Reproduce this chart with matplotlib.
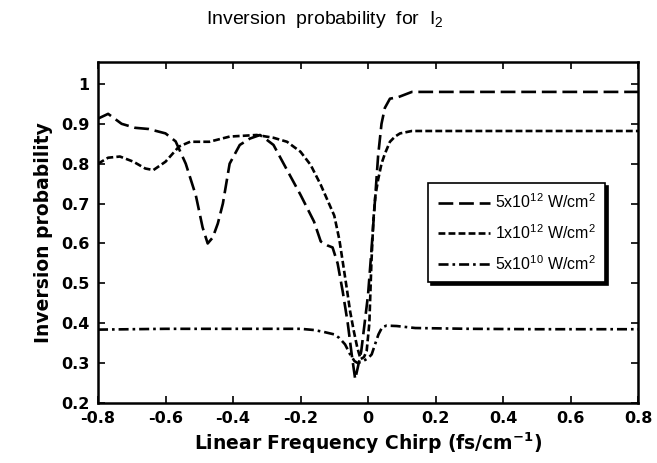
import numpy as np
import matplotlib
matplotlib.use('Agg')
import matplotlib.pyplot as plt

# chirp values (fs/cm^-1) and inversion probability
x_5e12 = [-0.8, -0.77, -0.73, -0.69, -0.65, -0.6, -0.57, -0.54, -0.51, -0.49, -0.475,
          -0.46, -0.445, -0.43, -0.41, -0.38, -0.35, -0.32, -0.3, -0.28, -0.25, -0.2,
          -0.16, -0.14, -0.12, -0.105, -0.09, -0.075, -0.06, -0.048, -0.038, -0.03,
          -0.02, -0.01, 0.0, 0.01, 0.02, 0.03, 0.04, 0.05, 0.065, 0.09, 0.13, 0.2,
          0.4, 0.6, 0.8]
y_5e12 = [0.913, 0.925, 0.90, 0.89, 0.887, 0.876, 0.856, 0.80, 0.72, 0.64, 0.60,
          0.615, 0.65, 0.70, 0.80, 0.847, 0.863, 0.872, 0.86, 0.847, 0.80, 0.722,
          0.655, 0.605, 0.595, 0.59, 0.55, 0.48, 0.40, 0.32, 0.26, 0.29,
          0.33, 0.40, 0.47, 0.58, 0.70, 0.82, 0.90, 0.94, 0.963, 0.967, 0.98, 0.98,
          0.98, 0.98, 0.98]

x_1e12 = [-0.8, -0.77, -0.735, -0.695, -0.66, -0.636, -0.6, -0.56, -0.527, -0.47,
          -0.41, -0.33, -0.28, -0.24, -0.2, -0.17, -0.14, -0.1, -0.085, -0.075,
          -0.063, -0.053, -0.042, -0.032, -0.022, -0.012, -0.004, 0.004, 0.01,
          0.016, 0.022, 0.03, 0.04, 0.05, 0.065, 0.08, 0.095, 0.13, 0.2, 0.4,
          0.6, 0.8]
y_1e12 = [0.80, 0.815, 0.818, 0.805, 0.788, 0.784, 0.805, 0.843, 0.855, 0.855,
          0.868, 0.872, 0.865, 0.855, 0.83, 0.797, 0.747, 0.67, 0.61, 0.555,
          0.488, 0.43, 0.38, 0.34, 0.31, 0.315, 0.33, 0.40, 0.55,
          0.66, 0.72, 0.76, 0.80, 0.825, 0.855, 0.868, 0.876, 0.882, 0.882, 0.882,
          0.882, 0.882]

x_5e10 = [-0.8, -0.6, -0.4, -0.2, -0.16, -0.13, -0.1, -0.085, -0.068, -0.053, -0.04,
          -0.03, -0.015, 0.0, 0.011, 0.02, 0.031, 0.042, 0.055, 0.085, 0.14, 0.3,
          0.5, 0.8]
y_5e10 = [0.384, 0.386, 0.386, 0.386, 0.383, 0.378, 0.372, 0.363, 0.347, 0.322, 0.305,
          0.30, 0.305, 0.312, 0.322, 0.345, 0.372, 0.39, 0.394, 0.393, 0.388, 0.386,
          0.385, 0.385]

labels = ['5x10$^{12}$ W/cm$^2$', '1x10$^{12}$ W/cm$^2$', '5x10$^{10}$ W/cm$^2$']
xticks = [-0.8, -0.6, -0.4, -0.2, 0, 0.2, 0.4, 0.6, 0.8]
xticklabels = ['-0.8', '-0.6', '-0.4', '-0.2', '0', '0.2', '0.4', '0.6', '0.8']
yticks = [0.2, 0.3, 0.4, 0.5, 0.6, 0.7, 0.8, 0.9, 1.0]
yticklabels = ['0.2', '0.3', '0.4', '0.5', '0.6', '0.7', '0.8', '0.9', '1']

plt.rcParams['font.family'] = ['Liberation Sans', 'DejaVu Sans']
plt.rcParams['mathtext.default'] = 'regular'

fig = plt.figure(figsize=(6.57, 4.63), dpi=100)
ax = fig.add_axes([98/657, 1 - 403/463, 540/657, 341/463])

lw = 1.9
ax.plot(x_5e12, y_5e12, color='k', lw=lw, dashes=(5.6, 2.2), label=labels[0])
ax.plot(x_1e12, y_1e12, color='k', lw=lw, dashes=(2.6, 1.2), label=labels[1])
ax.plot(x_5e10, y_5e10, color='k', lw=lw, dashes=(3.8, 1.5, 1.0, 1.5), label=labels[2])

ax.set_xlim(-0.8, 0.8)
ax.set_ylim(0.2, 1.055)
ax.set_xticks(xticks)
ax.set_xticklabels(xticklabels)
ax.set_yticks(yticks)
ax.set_yticklabels(yticklabels)
ax.tick_params(direction='in', top=True, right=True, length=5, width=1.2,
               labelsize=11.5, pad=6)
for lab in ax.get_xticklabels() + ax.get_yticklabels():
    lab.set_fontweight('bold')
    lab.set_family(['DejaVu Sans'])
for sp in ax.spines.values():
    sp.set_linewidth(1.8)

ax.set_xlabel('Linear Frequency Chirp (fs/cm$^{-1}$)', fontsize=13.5,
              fontweight='bold', family=['DejaVu Sans'], labelpad=3)
ax.set_ylabel('Inversion probability', fontsize=13.5, fontweight='bold',
              family=['DejaVu Sans'], labelpad=6)
fig.text(0.495, 0.958, 'Inversion  probability  for  I$_2$', ha='center',
         va='center', fontsize=14)

leg = ax.legend(loc='upper left', bbox_to_anchor=(0.611, 0.645), fontsize=11.5,
                frameon=True, fancybox=False, edgecolor='k', handlelength=3.3,
                borderpad=0.6, labelspacing=0.75, handletextpad=0.3,
                borderaxespad=0.0, shadow={'color': 'k', 'alpha': 1.0})
leg.get_frame().set_linewidth(1.2)

fig.savefig('out.png', dpi=100)
